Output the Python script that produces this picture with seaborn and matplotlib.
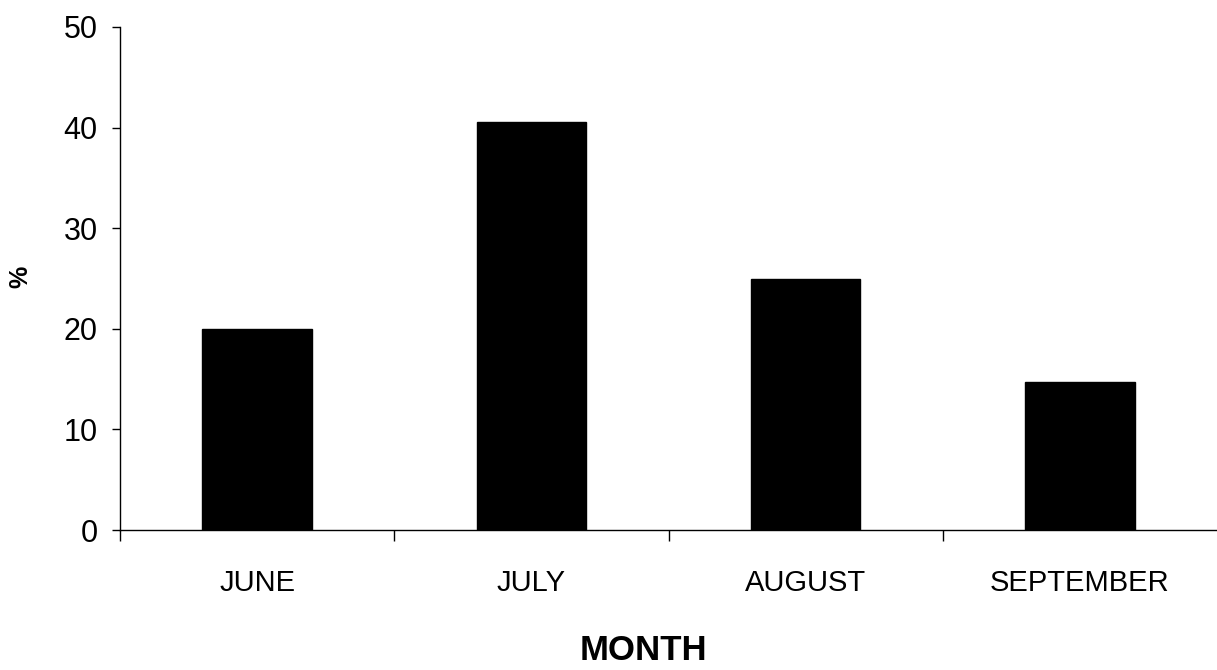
import matplotlib
matplotlib.use("Agg")
import matplotlib.pyplot as plt
import seaborn as sns
import pandas as pd

months = ["JUNE", "JULY", "AUGUST", "SEPTEMBER"]
values = [20.0, 40.6, 25.0, 14.7]
y_ticks = [0, 10, 20, 30, 40, 50]

sns.set_theme(style="white")
plt.rcParams['font.family'] = ['Liberation Sans', 'DejaVu Sans']

df = pd.DataFrame({"month": months, "pct": values})

fig = plt.figure(figsize=(12.17, 6.70), dpi=100)
ax = fig.add_axes([120/1217, 1 - 530/670, 1 - 120/1217, (530 - 27)/670])
sns.barplot(data=df, x="month", y="pct", color="black", width=0.40,
            saturation=1, ax=ax, edgecolor="black")

ax.set_ylim(0, 50)
ax.set_xlim(-0.5, 3.5)
ax.set_yticks(y_ticks)
ax.set_yticklabels([str(t) for t in y_ticks], fontsize=22)
ax.set_xticks([-0.5, 0.5, 1.5, 2.5])
ax.set_xticklabels([])
ax.set_xticks([0, 1, 2, 3], minor=True)
ax.set_xticklabels(months, minor=True, fontsize=21)

for s in ["top", "right"]:
    ax.spines[s].set_visible(False)
for s in ["left", "bottom"]:
    ax.spines[s].set_color("black")
    ax.spines[s].set_linewidth(1.0)

ax.tick_params(axis="y", which="major", direction="out", length=6, width=1,
               color="black", left=True, pad=10, labelcolor="black")
ax.tick_params(axis="x", which="major", direction="out", length=8, width=1,
               color="black", bottom=True)
ax.tick_params(axis="x", which="minor", length=0, pad=28, labelcolor="black")

ax.set_xlabel("MONTH", fontsize=25, fontweight="bold", color="black")
ax.xaxis.set_label_coords((643 - 120) / 1097, (530 - 650) / 503)
ax.xaxis.label.set_va("center")
ax.set_ylabel("%", fontsize=18, fontweight="bold", color="black")
ax.yaxis.set_label_coords((20 - 120) / 1097, (530 - 277) / 503)
ax.yaxis.label.set_va("center")

fig.savefig("out.png", dpi=100)
